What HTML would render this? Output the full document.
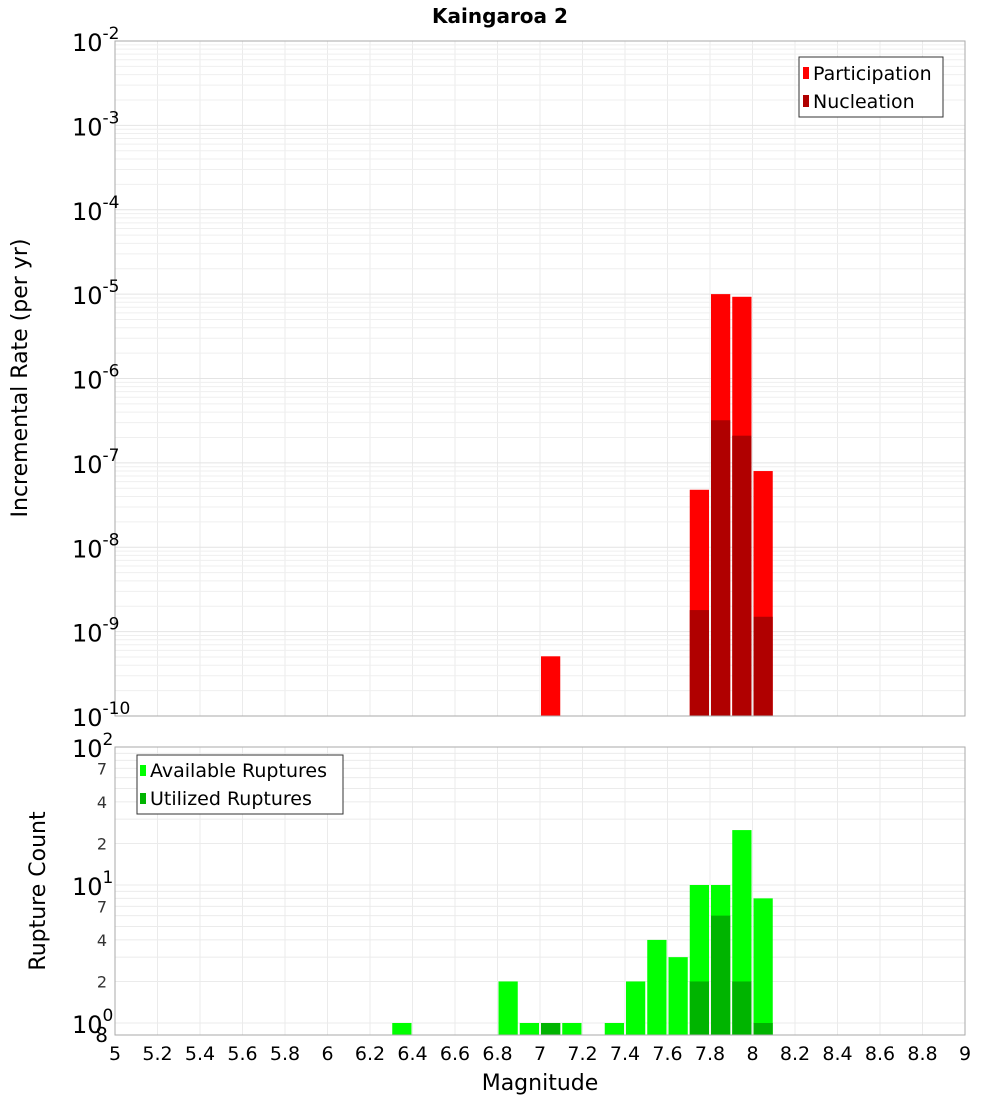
<!DOCTYPE html>
<html><head><meta charset="utf-8"><style>
body{margin:0;background:#fff;font-family:"DejaVu Sans","Liberation Sans",sans-serif}
svg text{font-family:"DejaVu Sans","Liberation Sans",sans-serif}
</style></head><body>
<svg id="c" width="1000" height="1100" xmlns="http://www.w3.org/2000/svg">
<text x="500" y="23" text-anchor="middle" font-size="20" font-weight="bold">Kaingaroa 2</text>
<g id="g"></g>
<text transform="translate(27,378) rotate(-90)" text-anchor="middle" font-size="22">Incremental Rate (per yr)</text>
<text transform="translate(45,891) rotate(-90)" text-anchor="middle" font-size="22">Rupture Count</text>
<text x="540" y="1090" text-anchor="middle" font-size="22">Magnitude</text>
</svg>
<script>
const binsTop=[7.05,7.75,7.85,7.95,8.05];
const participation=[5.1e-10,4.8e-8,1.0e-5,9.3e-6,8e-8];
const nucleation=[0,1.8e-9,3.2e-7,2.1e-7,1.5e-9];
const binsBot=[6.35,6.85,6.95,7.05,7.15,7.35,7.45,7.55,7.65,7.75,7.85,7.95,8.05];
const available=[1,2,1,1,1,1,2,4,3,10,10,25,8];
const utilized=[0,0,0,1,0,0,0,0,0,2,6,2,1];
const xTicks=[5,5.2,5.4,5.6,5.8,6,6.2,6.4,6.6,6.8,7,7.2,7.4,7.6,7.8,8,8.2,8.4,8.6,8.8,9];

const NS="http://www.w3.org/2000/svg",g=document.getElementById('g');
const L=115,R=965;
const X=v=>L+(v-5)/4*(R-L);
const T0=41,T1=716; const YT=v=>T0+(-2-Math.log10(v))/8*(T1-T0);
const B0=747,B1=1035; const YB=v=>885-(Math.log10(v)-1)*138;
function el(t,a,name,txt){const e=document.createElementNS(NS,t);for(const k in a)e.setAttribute(k,a[k]);


if(txt!==undefined)e.textContent=txt;g.appendChild(e);return e;}
// grids
for(const p of [[T0,T1],[B0,B1]]){
 el('rect',{x:L,y:p[0],width:R-L,height:p[1]-p[0],fill:'#fff',stroke:'none'},'plot-background');
 for(let i=1;i<20;i++)el('line',{x1:X(5+i*0.2),x2:X(5+i*0.2),y1:p[0],y2:p[1],stroke:'#ebebeb'},'x-grid-line');
}
for(let d=-10;d<-2;d++)for(let m=1;m<10;m++){const y=YT(m*Math.pow(10,d));el('line',{x1:L,x2:R,y1:y,y2:y,stroke:m==1?'#e4e4e4':'#efefef'},'top-y-grid-line');}
for(const v of [1,2,3,4,5,6,7,8,9,10,20,30,40,50,60,70,80,90]){const y=YB(v);el('line',{x1:L,x2:R,y1:y,y2:y,stroke:'#ebebeb'},'bottom-y-grid-line');}
const bw=X(5.1)-X(5);
binsTop.forEach((b,i)=>{
 el('rect',{x:X(b)-bw/2+1,y:YT(participation[i]),width:bw-2,height:T1-YT(participation[i]),fill:'#ff0000'},'participation-bar');
 if(nucleation[i]>0)el('rect',{x:X(b)-bw/2+1,y:YT(nucleation[i]),width:bw-2,height:T1-YT(nucleation[i]),fill:'#b00000'},'nucleation-bar');
});
binsBot.forEach((b,i)=>{
 el('rect',{x:X(b)-bw/2+1,y:YB(available[i]),width:bw-2,height:B1-YB(available[i]),fill:'#00ff00'},'available-bar');
 if(utilized[i]>0)el('rect',{x:X(b)-bw/2+1,y:YB(utilized[i]),width:bw-2,height:B1-YB(utilized[i]),fill:'#00b400'},'utilized-bar');
});
el('rect',{x:L,y:T0,width:R-L,height:T1-T0,fill:'none',stroke:'#aaa'},'top-plot-frame');
el('rect',{x:L,y:B0,width:R-L,height:B1-B0,fill:'none',stroke:'#aaa'},'bottom-plot-frame');
// top y labels
for(let d=-10;d<=-2;d++){const y=YT(Math.pow(10,d));
 const t=el('text',{x:72,y:y+10,'font-size':24},'top-y-tick-label','10');
 const s=document.createElementNS(NS,'tspan');s.setAttribute('dy','-12');s.setAttribute('font-size','17');s.textContent=String(d);t.appendChild(s);}
// bottom y labels
for(const [v,lab] of [[1,'0'],[10,'1'],[100,'2']]){const y=YB(v);
 const t=el('text',{x:72,y:y+10,'font-size':24},'bottom-y-tick-label','10');
 const s=document.createElementNS(NS,'tspan');s.setAttribute('dy','-12');s.setAttribute('font-size','17');s.textContent=lab;t.appendChild(s);}
for(const v of [2,4,7,20,40,70])el('text',{x:107,y:YB(v)+6,'font-size':16,'text-anchor':'end',fill:'#333'},'bottom-y-minor-label',String(v>9?v/10:v));
el('text',{x:108,y:1042,'font-size':20,'text-anchor':'end'},'bottom-y-minor-label','8');
xTicks.forEach(v=>el('text',{x:X(v),y:1060,'font-size':19,'text-anchor':'middle'},'x-tick-label',String(+v.toFixed(1))));
// legends
el('rect',{x:799,y:57,width:144,height:60,fill:'#fff',stroke:'#333'},'top-legend');
el('rect',{x:803,y:67,width:6,height:12,fill:'#ff0000'},'legend-participation-swatch');
el('text',{x:813,y:80,'font-size':19},'legend-participation','Participation');
el('rect',{x:803,y:95,width:6,height:12,fill:'#b00000'},'legend-nucleation-swatch');
el('text',{x:813,y:108,'font-size':19},'legend-nucleation','Nucleation');
el('rect',{x:137,y:755,width:206,height:59,fill:'#fff',stroke:'#333'},'bottom-legend');
el('rect',{x:140,y:765,width:6,height:11,fill:'#00ff00'},'legend-available-swatch');
el('text',{x:150,y:777,'font-size':19},'legend-available','Available Ruptures');
el('rect',{x:140,y:793,width:6,height:11,fill:'#00b400'},'legend-utilized-swatch');
el('text',{x:150,y:805,'font-size':19},'legend-utilized','Utilized Ruptures');
</script>
</body></html>
